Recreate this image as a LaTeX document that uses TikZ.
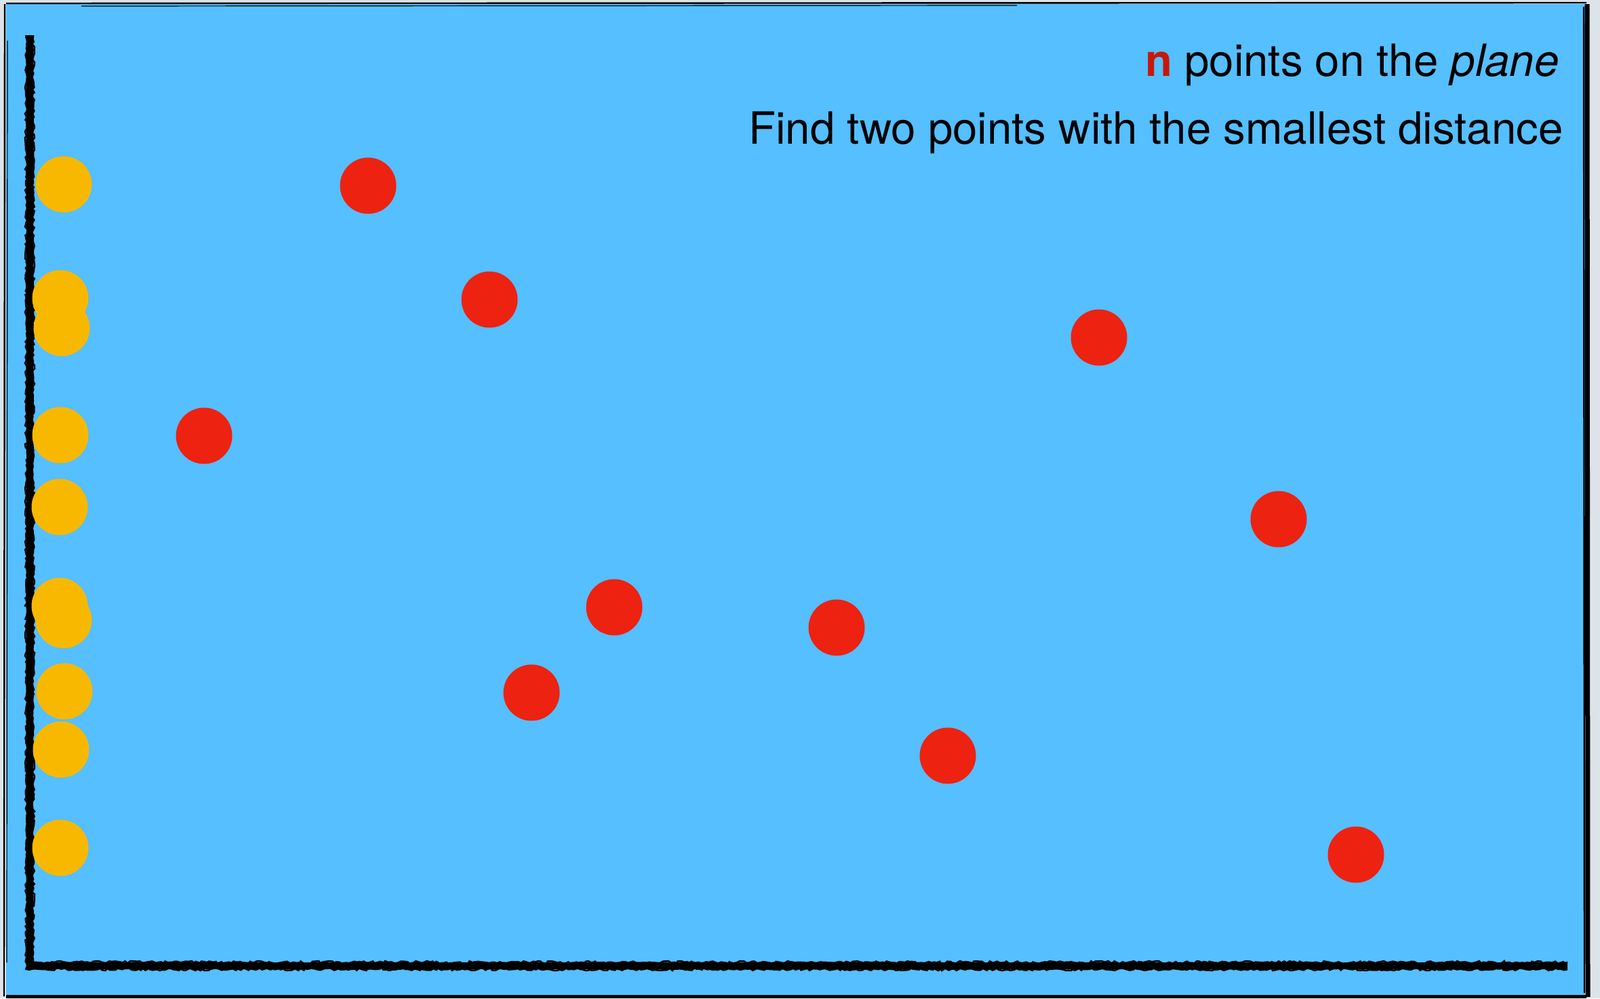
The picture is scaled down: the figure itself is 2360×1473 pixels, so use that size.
\documentclass[tikz,border=0pt]{standalone}
\usepackage{fontspec}
\setmainfont{TeX Gyre Heros}
\usetikzlibrary{decorations.pathmorphing}
\definecolor{bgblue}{HTML}{55BFFF}
\definecolor{outgrey}{HTML}{DCE4E9}
\definecolor{dotyellow}{HTML}{F8B800}
\definecolor{dotred}{HTML}{EE2211}
\definecolor{nred}{HTML}{C8180C}
\tikzset{
  ydot/.style={circle,fill=dotyellow,inner sep=0pt,minimum size=41.5pt},
  rdot/.style={circle,fill=dotred,inner sep=0pt,minimum size=41.5pt},
  axisline/.style={line width=5pt,black,line cap=butt},
  roughline/.style={line width=1.3pt,black,decorate,decoration={random steps,segment length=2pt,amplitude=0.9pt}},
  frameline/.style={black,line width=1.2pt},
  label/.style={font=\fontsize{32.7}{38}\selectfont,inner sep=0pt},
}
\begin{document}
\begin{tikzpicture}[x=0.5pt,y=-0.5pt]
\useasboundingbox (0,0) rectangle (2360,1473);
\fill[outgrey] (0,0) rectangle (2360,1473);
\fill[bgblue] (9,6) rectangle (2338,1468);
% sketchy frame
\draw[frameline] (9,5) -- (2340,4);
\draw[frameline,line width=0.6pt] (120,9) -- (1500,8);
\draw[frameline] (7,6) -- (6,1470);
\draw[frameline,line width=0.6pt] (11,60) -- (10,1420);
\draw[black,line width=3.5pt] (2341,6) -- (2342,1471);
\draw[frameline] (2336,10) -- (2337,1465);
\draw[black,line width=2.5pt] (9,1470) -- (2340,1470);
% axes
\coordinate (top) at (44,52);
\coordinate (corner) at (44,1425);
\coordinate (right) at (2312,1425);
\draw[axisline] (top) -- (corner) -- (right);
\draw[roughline] (top) -- (corner) -- (right);
\draw[roughline] ([xshift=-2.6pt]top) -- ([xshift=-2.6pt,yshift=-2.6pt]corner) -- ([yshift=-2.6pt]right);
\draw[roughline] ([xshift=2.6pt]top) -- ([xshift=2.6pt,yshift=2.6pt]corner) -- ([yshift=2.6pt]right);
% yellow dots (projections)
\node[ydot] (y1) at (94,272) {};
\node[ydot] (y2) at (89,440) {};
\node[ydot] (y3) at (91,484) {};
\node[ydot] (y4) at (89,642) {};
\node[ydot] (y5) at (88,748) {};
\node[ydot] (y6) at (88,894) {};
\node[ydot] (y7) at (94,915) {};
\node[ydot] (y8) at (95,1020) {};
\node[ydot] (y9) at (90,1106) {};
\node[ydot] (y10) at (89,1251) {};
% red dots
\node[rdot] (r1) at (543,274) {};
\node[rdot] (r2) at (722,442) {};
\node[rdot] (r3) at (1621,498) {};
\node[rdot] (r4) at (301,643) {};
\node[rdot] (r5) at (1886,766) {};
\node[rdot] (r6) at (906,896) {};
\node[rdot] (r7) at (1234,926) {};
\node[rdot] (r8) at (784,1022) {};
\node[rdot] (r9) at (1398,1115) {};
\node[rdot] (r10) at (2000,1261) {};
% texts
\node[label,anchor=base east] (t1) at (2300,112) {\textbf{\textcolor{nred}{n}} points on the \textit{plane}};
\node[label,anchor=base east] (t2) at (2306,212) {Find two points with the smallest distance};
\end{tikzpicture}
\end{document}
